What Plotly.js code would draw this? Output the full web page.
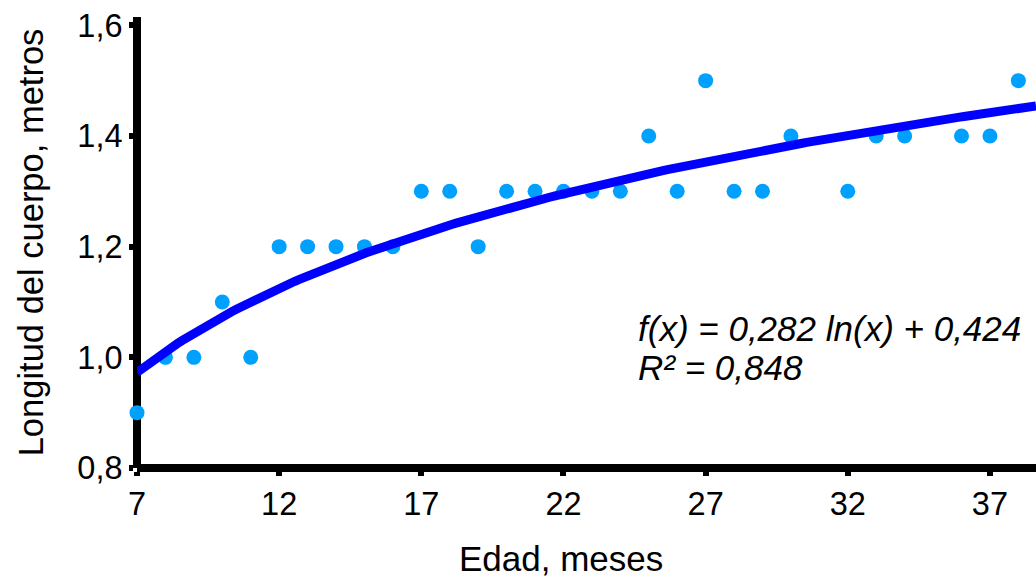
<!DOCTYPE html>
<html>
<head>
<meta charset="utf-8">
<script src="https://cdn.plot.ly/plotly-3.0.1.min.js"></script>
<style>html,body{margin:0;padding:0;background:#fff;}#chart{width:1036px;height:579px;}</style>
</head>
<body>
<div id="chart"></div>
<script>
// Data
var edadMeses = [7, 8, 9, 10, 11, 12, 13, 14, 15, 16, 17, 18, 19, 20, 21, 22, 23, 24, 25, 26, 27, 28, 29, 30, 32, 33, 34, 36, 37, 38];
var longitudMetros = [0.9, 1.0, 1.0, 1.1, 1.0, 1.2, 1.2, 1.2, 1.2, 1.2, 1.3, 1.3, 1.2, 1.3, 1.3, 1.3, 1.3, 1.3, 1.4, 1.3, 1.5, 1.3, 1.3, 1.4, 1.3, 1.4, 1.4, 1.4, 1.4, 1.5];
// Trend line coefficients as printed on the chart: f(x) = a ln(x) + b
var trendA = 0.282;
var trendB = 0.424;
var equationText = 'f(x) = 0,282 ln(x) + 0,424';
var r2Text = 'R² = 0,848';
var xTitle = 'Edad, meses';
var yTitle = 'Longitud del cuerpo, metros';

var xRange = [7, 38.62];
var yRange = [0.8, 1.615];

var trendX = [], trendY = [];
for (var i = 0; i <= 200; i++) {
  var xv = xRange[0] + (xRange[1] - xRange[0]) * i / 200;
  trendX.push(xv);
  trendY.push(trendA * Math.log(xv) + trendB);
}

var font = 'Liberation Sans, Arial, sans-serif';

var traces = [
  {
    x: edadMeses, y: longitudMetros, type: 'scatter', mode: 'markers',
    marker: {color: '#00a0ff', size: 15},
    cliponaxis: false, hoverinfo: 'x+y', showlegend: false
  },
  {
    x: trendX, y: trendY, type: 'scatter', mode: 'lines',
    line: {color: '#0000ff', width: 9},
    cliponaxis: false, hoverinfo: 'skip', showlegend: false
  }
];

var layout = {
  width: 1036, height: 579,
  margin: {l: 137, r: 0, t: 17, b: 111, pad: 0},
  paper_bgcolor: '#ffffff', plot_bgcolor: '#ffffff',
  separators: ', ',
  font: {family: font, size: 32, color: '#000000'},
  showlegend: false,
  xaxis: {
    range: xRange, tick0: 7, dtick: 5, tickmode: 'linear',
    showgrid: false, zeroline: false,
    showline: true, linecolor: '#000000', linewidth: 8,
    ticks: 'outside', ticklen: 4, tickwidth: 6, tickcolor: '#000000',
    anchor: 'free', position: 0, layer: 'below traces',
    tickfont: {family: font, size: 32.5, color: '#000000'}
  },
  yaxis: {
    range: yRange, tick0: 0.8, dtick: 0.2, tickmode: 'linear', tickformat: '.1f',
    showgrid: false, zeroline: false,
    showline: true, linecolor: '#000000', linewidth: 8,
    ticks: 'outside', ticklen: 4, tickwidth: 6, tickcolor: '#000000',
    anchor: 'free', position: 0, layer: 'below traces',
    tickfont: {family: font, size: 32.5, color: '#000000'},
    title: {text: yTitle, font: {family: font, size: 34.5, color: '#000000'}, standoff: 22}
  },
  annotations: [
    {xref: 'paper', yref: 'paper', x: 0.4716, y: -0.2007, xanchor: 'center', yanchor: 'middle',
     text: xTitle, showarrow: false, borderpad: 0,
     font: {family: font, size: 35, color: '#000000'}},
    {xref: 'paper', yref: 'paper', x: 0.555, y: 0.309, xanchor: 'left', yanchor: 'middle',
     text: '<i>' + equationText + '</i>', showarrow: false,
     font: {family: font, size: 35, color: '#000000'}},
    {xref: 'paper', yref: 'paper', x: 0.555, y: 0.223, xanchor: 'left', yanchor: 'middle',
     text: '<i>' + r2Text + '</i>', showarrow: false,
     font: {family: font, size: 35, color: '#000000'}}
  ]
};

Plotly.newPlot('chart', traces, layout, {staticPlot: true, displayModeBar: false});
</script>
</body>
</html>
